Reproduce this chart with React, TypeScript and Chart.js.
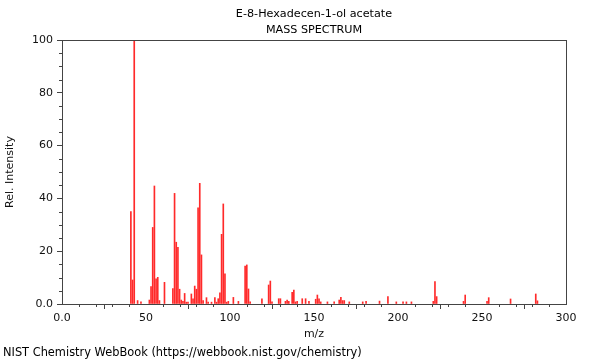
import React, { useEffect, useRef } from "react";
import { Chart, registerables } from "chart.js";

Chart.register(...registerables);

const TITLE_LINES = ["E-8-Hexadecen-1-ol acetate", "MASS SPECTRUM"];
const FOOTER = "NIST Chemistry WebBook (https://webbook.nist.gov/chemistry)";
const X_LABEL = "m/z";
const Y_LABEL = "Rel. Intensity";

const MZ = [
  41, 42, 43, 45, 47, 52, 53, 54, 55, 56, 57, 58, 61, 66, 67, 68, 69, 70, 71, 72,
  73, 74, 75, 77, 78, 79, 80, 81, 82, 83, 84, 86, 87, 89, 91, 92, 93, 94, 95, 96,
  97, 98, 99, 102, 105, 109, 110, 111, 112, 119, 123, 124, 125, 129, 130, 133, 134, 135, 137, 138,
  139, 140, 143, 145, 147, 151, 152, 153, 154, 158, 162, 165, 166, 167, 168, 171, 179, 181, 189, 194,
  199, 203, 205, 208, 221, 222, 223, 239, 240, 253, 254, 267, 282, 283,
];
const INTENSITY = [
  35.0, 9.1, 100, 1.3, 0.8, 1.5, 6.6, 29.0, 44.7, 9.5, 10.1, 1.3, 8.2, 5.8, 41.9, 23.4, 21.5, 5.6, 1.5, 1.0,
  4.0, 0.7, 0.7, 3.8, 2.0, 6.8, 5.6, 36.4, 45.7, 18.6, 1.3, 2.4, 0.7, 0.7, 2.4, 0.7, 2.0, 4.2, 26.4, 37.9,
  11.4, 0.7, 1.0, 2.5, 1.0, 14.4, 14.8, 5.7, 0.8, 2.0, 7.2, 8.7, 0.8, 2.0, 2.0, 1.0, 1.5, 1.0, 4.4, 5.3,
  0.8, 1.0, 2.0, 2.0, 1.0, 1.8, 3.4, 2.0, 0.8, 0.8, 0.8, 1.5, 2.5, 1.3, 1.3, 0.8, 0.8, 1.0, 1.1, 2.8,
  0.8, 0.8, 0.8, 0.8, 1.0, 8.5, 2.8, 1.0, 3.4, 1.0, 2.4, 1.9, 3.8, 1.2,
];

const X_MIN = 0;
const X_MAX = 300;
const X_MAJOR = 50;
const X_MINOR = 10;
const Y_MIN = 0;
const Y_MAX = 100;
const Y_MAJOR = 20;
const Y_MINOR = 5;

const FONT = '"DejaVu Sans", sans-serif';
const AXIS_COLOR = "#444";

const decorPlugin = {
  id: "decor",
  afterDraw(chart: any) {
    const { ctx, chartArea, scales } = chart;
    const { left, top, right, bottom } = chartArea;
    ctx.save();
    ctx.strokeStyle = AXIS_COLOR;
    ctx.lineWidth = 1;
    for (let v = X_MIN; v <= X_MAX; v += X_MINOR) {
      if (v % X_MAJOR === 0) continue;
      const px = Math.round(scales.x.getPixelForValue(v)) + 0.5;
      ctx.beginPath();
      ctx.moveTo(px, bottom);
      ctx.lineTo(px, bottom + 3);
      ctx.stroke();
    }
    for (let v = Y_MIN; v <= Y_MAX; v += Y_MINOR) {
      if (v % Y_MAJOR === 0) continue;
      const py = Math.round(scales.y.getPixelForValue(v)) + 0.5;
      ctx.beginPath();
      ctx.moveTo(left, py);
      ctx.lineTo(left - 3, py);
      ctx.stroke();
    }
    ctx.strokeRect(Math.round(left) + 0.5, Math.round(top) + 0.5, Math.round(right - left), Math.round(bottom - top));
    ctx.fillStyle = "#000";
    ctx.font = `11.2px ${FONT}`;
    ctx.textAlign = "center";
    ctx.textBaseline = "middle";
    const cx = (left + right) / 2;
    ctx.fillText(TITLE_LINES[0], cx, 14);
    ctx.fillText(TITLE_LINES[1], cx, 30.5);
    ctx.font = `11.4px ${FONT}`;
    ctx.textAlign = "left";
    ctx.fillText(FOOTER, 3, 353);
    ctx.restore();
  },
};

export default function App() {
  const ref = useRef<HTMLCanvasElement | null>(null);
  useEffect(() => {
    if (!ref.current) return;
    const chart = new Chart(ref.current, {
      type: "bar",
      data: {
        datasets: [
          {
            data: MZ.map((m, i) => ({ x: m, y: INTENSITY[i] })),
            backgroundColor: "#ff2a2a",
            borderWidth: 0,
            barThickness: 1,
            grouped: false,
          } as any,
        ],
      },
      options: {
        animation: false,
        responsive: false,
        events: [],
        layout: { padding: { top: 40, left: 0, right: 34, bottom: 0 } },
        plugins: { legend: { display: false }, tooltip: { enabled: false }, title: { display: false } },
        scales: {
          x: {
            type: "linear",
            min: X_MIN,
            max: X_MAX,
            offset: false,
            afterFit(scale: any) {
              scale.height = 56;
            },
            ticks: {
              stepSize: X_MAJOR,
              autoSkip: false,
              maxRotation: 0,
              padding: 3,
              color: "#111",
              font: { family: FONT, size: 11 },
              callback: (v: any) => (Number(v) === 0 ? "0.0" : String(v)),
            },
            grid: {
              drawOnChartArea: false,
              drawTicks: true,
              tickLength: 5,
              tickColor: AXIS_COLOR,
              color: AXIS_COLOR,
            },
            border: { display: true, color: AXIS_COLOR },
            title: {
              display: true,
              text: X_LABEL,
              color: "#111",
              font: { family: FONT, size: 11 },
              padding: { top: 0, bottom: 19 },
            },
          },
          y: {
            type: "linear",
            min: Y_MIN,
            max: Y_MAX,
            afterFit(scale: any) {
              scale.width = 62;
            },
            ticks: {
              stepSize: Y_MAJOR,
              padding: 4,
              color: "#111",
              font: { family: FONT, size: 11 },
              callback: (v: any) => (Number(v) === 0 ? "0.0" : String(v)),
            },
            grid: {
              drawOnChartArea: false,
              drawTicks: true,
              tickLength: 5,
              tickColor: AXIS_COLOR,
              color: AXIS_COLOR,
            },
            border: { display: true, color: AXIS_COLOR },
            title: {
              display: true,
              text: Y_LABEL,
              color: "#111",
              font: { family: FONT, size: 11 },
              padding: { top: 4, bottom: 0 },
            },
          },
        },
      },
      plugins: [decorPlugin],
    });
    return () => chart.destroy();
  }, []);
  return (
    <canvas
      ref={ref}
      width={600}
      height={360}
      style={{ position: "absolute", left: 0, top: 0, width: 600, height: 360 }}
    />
  );
}
